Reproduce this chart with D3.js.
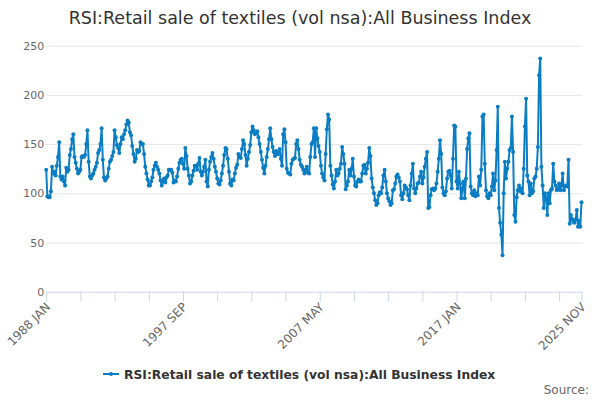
<!DOCTYPE html>
<html>
<head>
<meta charset="utf-8">
<script src="https://cdn.jsdelivr.net/npm/d3@7"></script>
<style>
html,body{margin:0;padding:0;background:#fff;}
svg{display:block;font-family:"DejaVu Sans",sans-serif;}
</style>
</head>
<body>
<svg id="chart" width="600" height="400"></svg>
<script>
const title = "RSI:Retail sale of textiles (vol nsa):All Business Index";
const seriesName = "RSI:Retail sale of textiles (vol nsa):All Business Index";
const months = ["JAN","FEB","MAR","APR","MAY","JUN","JUL","AUG","SEP","OCT","NOV","DEC"];
const startYear = 1988;
const yTicks = [0, 50, 100, 150, 200, 250];

// monthly values, one array per year (2025 ends in November)
const v1988 = [124, 97, 96, 96, 102, 127, 120, 122, 118, 128, 137, 152];
const v1989 = [117, 114, 117, 112, 108, 126, 122, 124, 139, 145, 155, 160];
const v1990 = [137, 131, 125, 120, 122, 124, 137, 138, 137, 139, 150, 164];
const v1991 = [132, 117, 115, 118, 120, 124, 127, 131, 141, 144, 150, 166];
const v1992 = [134, 116, 113, 115, 117, 125, 132, 134, 138, 142, 164, 157];
const v1993 = [149, 146, 141, 150, 157, 155, 160, 164, 170, 174, 172, 162];
const v1994 = [159, 148, 140, 132, 135, 144, 142, 143, 152, 150, 150, 140];
const v1995 = [127, 120, 114, 108, 108, 112, 116, 124, 128, 131, 127, 124];
const v1996 = [120, 113, 108, 112, 115, 111, 116, 118, 124, 124, 124, 121];
const v1997 = [111, 113, 112, 117, 125, 131, 134, 135, 130, 125, 146, 138];
const v1998 = [125, 118, 110, 112, 118, 123, 128, 128, 124, 130, 136, 122];
const v1999 = [118, 122, 127, 134, 112, 107, 124, 132, 137, 141, 135, 127];
const v2000 = [122, 115, 110, 109, 113, 120, 128, 139, 146, 145, 135, 122];
const v2001 = [110, 108, 114, 113, 120, 126, 129, 140, 137, 136, 145, 154];
const v2002 = [150, 139, 128, 135, 142, 149, 162, 168, 164, 160, 161, 163];
const v2003 = [157, 150, 142, 134, 126, 120, 128, 137, 145, 155, 166, 155];
const v2004 = [147, 142, 138, 143, 140, 140, 145, 135, 128, 160, 165, 152];
const v2005 = [125, 121, 120, 119, 130, 134, 135, 136, 150, 154, 145, 134];
const v2006 = [129, 127, 124, 120, 124, 127, 121, 120, 137, 150, 152, 166];
const v2007 = [137, 166, 156, 148, 142, 128, 120, 116, 113, 140, 165, 180];
const v2008 = [175, 128, 118, 109, 105, 112, 124, 118, 120, 125, 130, 147];
const v2009 = [140, 130, 104, 108, 112, 124, 118, 125, 135, 117, 108, 107];
const v2010 = [112, 114, 112, 112, 120, 128, 129, 120, 125, 131, 146, 138];
const v2011 = [115, 106, 100, 93, 88, 90, 98, 101, 100, 106, 118, 124];
const v2012 = [112, 100, 95, 92, 88, 90, 103, 104, 110, 117, 119, 116];
const v2013 = [112, 98, 94, 100, 108, 106, 104, 98, 93, 108, 120, 130];
const v2014 = [105, 100, 105, 110, 111, 117, 122, 110, 116, 127, 135, 142];
const v2015 = [85, 86, 98, 104, 105, 103, 105, 110, 122, 135, 154, 140];
const v2016 = [106, 100, 98, 102, 115, 122, 123, 118, 105, 135, 169, 168];
const v2017 = [112, 105, 122, 110, 95, 105, 112, 95, 115, 145, 156, 161];
const v2018 = [107, 100, 98, 103, 97, 100, 98, 117, 108, 124, 178, 180];
const v2019 = [130, 103, 97, 95, 100, 98, 107, 120, 103, 113, 144, 188];
const v2020 = [85, 70, 58, 37, 100, 132, 115, 125, 132, 144, 146, 178];
const v2021 = [142, 78, 71, 96, 103, 108, 102, 105, 100, 125, 168, 196];
const v2022 = [118, 112, 98, 110, 100, 102, 115, 117, 125, 147, 220, 237];
const v2023 = [127, 108, 85, 100, 96, 78, 100, 90, 103, 105, 130, 112];
const v2024 = [108, 103, 105, 110, 103, 108, 120, 103, 107, 108, 107, 134];
const v2025 = [69, 78, 74, 71, 70, 73, 83, 66, 72, 66, 91];

const years = [v1988,v1989,v1990,v1991,v1992,v1993,v1994,v1995,v1996,v1997,v1998,v1999,
  v2000,v2001,v2002,v2003,v2004,v2005,v2006,v2007,v2008,v2009,v2010,v2011,v2012,v2013,
  v2014,v2015,v2016,v2017,v2018,v2019,v2020,v2021,v2022,v2023,v2024,v2025];

const data = [];
years.forEach((arr, yi) => arr.forEach((v, mi) => {
  data.push({label: (startYear + yi) + " " + months[mi], value: v});
}));
const n = data.length;

const svg = d3.select("#chart");
const plotL = 46.2, plotR = 581.5, plotT = 45.7, plotB = 291.7;

const x = d3.scaleLinear().domain([0, n - 1]).range([plotL, plotR]);
const y = d3.scaleLinear().domain([0, 250]).range([plotB, plotT]);

// title
svg.append("text").attr("x", 300).attr("y", 24).attr("text-anchor", "middle")
  .attr("font-size", 17.5).attr("fill", "#333333").text(title);

// grid + y labels
const yAxis = d3.axisLeft(y).tickValues(yTicks).tickSize(-(plotR - plotL + 1)).tickPadding(12);
const gy = svg.append("g").attr("transform", `translate(${plotL},0)`).call(yAxis);
gy.select(".domain").remove();
gy.selectAll(".tick line").attr("stroke", "#e6e6e6");
gy.selectAll(".tick text").attr("fill", "#666666").attr("font-size", 11)
  .attr("font-family", "DejaVu Sans, sans-serif").attr("x", -2);
gy.selectAll(".tick").filter(d => d === 0).select("line").remove();

// x axis
const tickIdx = d3.range(0, n, 29).concat([n - 1]);
const labelIdx = d3.range(0, n, 116).concat([n - 1]);
const xAxis = d3.axisBottom(x).tickValues(tickIdx).tickSize(10).tickFormat("");
const gx = svg.append("g").attr("transform", `translate(0,${plotB})`).call(xAxis);
gx.select(".domain").attr("stroke", "#ccd6eb").attr("d", `M${plotL},0.5H${plotR + 1}`);
gx.selectAll(".tick line").attr("stroke", "#ccd6eb");

svg.append("g").selectAll("text").data(labelIdx).join("text")
  .attr("transform", d => `translate(${x(d) + 5},${plotB + 16}) rotate(-45)`)
  .attr("text-anchor", "end").attr("font-size", 12).attr("fill", "#666666")
  .text(d => data[d].label);

// line
const color = "#0b7dc3";
const line = d3.line().x((d, i) => x(i)).y(d => y(d.value));
svg.append("path").datum(data).attr("d", line).attr("fill", "none")
  .attr("stroke", color).attr("stroke-width", 2).attr("stroke-linejoin", "round");
svg.append("g").selectAll("circle").data(data).join("circle")
  .attr("cx", (d, i) => x(i)).attr("cy", d => y(d.value)).attr("r", 2).attr("fill", color);

// legend
const lg = svg.append("g");
lg.append("line").attr("x1", 103).attr("x2", 119).attr("y1", 374).attr("y2", 374)
  .attr("stroke", color).attr("stroke-width", 2);
lg.append("circle").attr("cx", 111).attr("cy", 374).attr("r", 2).attr("fill", color);
lg.append("text").attr("x", 124).attr("y", 378.5).attr("font-size", 12.3).attr("font-weight", "bold")
  .attr("fill", "#333333").text(seriesName);

// credits
svg.append("text").attr("x", 589).attr("y", 394).attr("text-anchor", "end")
  .attr("font-size", 12).attr("fill", "#666666").text("Source:");
</script>
</body>
</html>
